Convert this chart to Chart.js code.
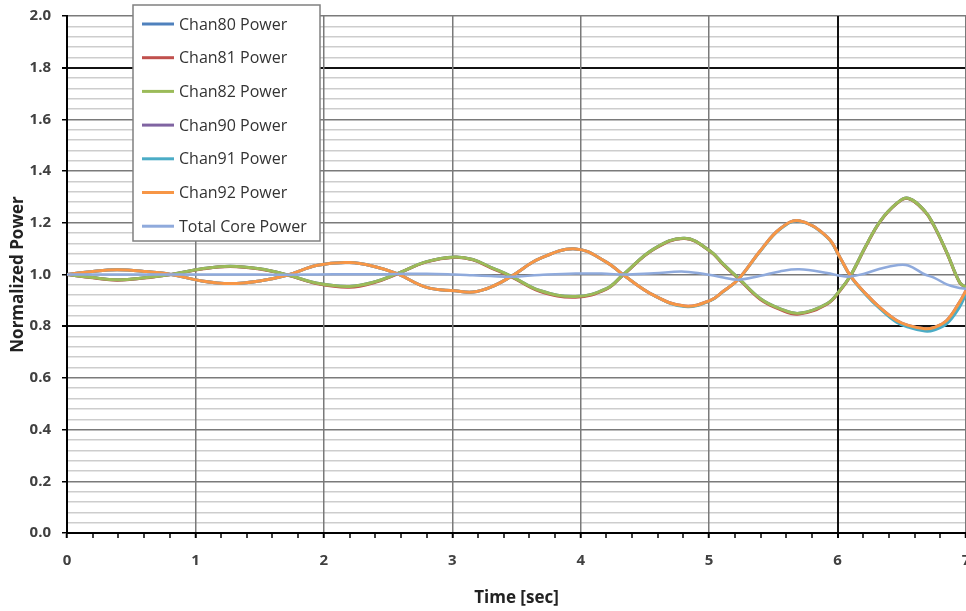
<!DOCTYPE html>
<html>
<head>
<meta charset="utf-8">
<script src="https://cdn.jsdelivr.net/npm/chart.js@4.4.1/dist/chart.umd.min.js"></script>
<style>
  html, body { margin:0; padding:0; background:#fff; overflow:hidden; width:966px; height:611px; }
  #wrap { position:absolute; left:0; top:0; width:1000px; height:611px; }
</style>
</head>
<body>
<div id="wrap"><canvas id="c" width="1000" height="611"></canvas></div>
<script>
// ---- data ----
const time = [0,0.2,0.39,0.6,0.81,1.05,1.27,1.5,1.72,1.95,2.2,2.4,2.57,2.8,3.02,3.16,3.3,3.46,3.68,3.96,4.2,4.33,4.57,4.81,5.01,5.11,5.23,5.4,5.55,5.7,5.92,6.02,6.1,6.22,6.33,6.46,6.55,6.68,6.75,6.85,6.95,7.0];

const chan80 = [1.000,0.988,0.980,0.987,1.000,1.022,1.032,1.022,0.998,0.966,0.954,0.972,1.003,1.050,1.068,1.058,1.028,0.993,0.938,0.915,0.945,0.999,1.099,1.140,1.090,1.040,0.985,0.906,0.868,0.850,0.888,0.940,0.995,1.110,1.205,1.275,1.295,1.245,1.190,1.086,0.970,0.950];
const chan81 = [1.000,0.987,0.978,0.986,1.000,1.021,1.031,1.021,0.997,0.964,0.951,0.970,1.002,1.049,1.067,1.057,1.026,0.991,0.935,0.912,0.943,0.998,1.098,1.139,1.089,1.038,0.983,0.903,0.865,0.847,0.886,0.938,0.994,1.109,1.204,1.274,1.294,1.244,1.189,1.085,0.969,0.949];
const chan82 = [1.000,0.988,0.980,0.987,1.000,1.022,1.032,1.022,0.998,0.966,0.954,0.972,1.003,1.050,1.068,1.058,1.028,0.993,0.938,0.915,0.945,0.999,1.099,1.140,1.090,1.040,0.985,0.906,0.868,0.850,0.888,0.940,0.995,1.110,1.205,1.275,1.295,1.245,1.190,1.086,0.970,0.950];
const chan90 = [1.000,1.012,1.018,1.012,1.000,0.975,0.965,0.975,0.998,1.036,1.046,1.030,1.003,0.950,0.937,0.932,0.951,0.993,1.061,1.099,1.048,0.999,0.919,0.878,0.900,0.935,0.983,1.093,1.176,1.208,1.145,1.065,0.995,0.925,0.872,0.822,0.803,0.790,0.795,0.822,0.893,0.938];
const chan91 = [1.000,1.012,1.018,1.012,1.000,0.975,0.965,0.975,0.998,1.036,1.046,1.030,1.003,0.950,0.937,0.932,0.951,0.993,1.061,1.099,1.048,0.999,0.919,0.876,0.899,0.934,0.983,1.092,1.175,1.207,1.144,1.064,0.994,0.922,0.868,0.815,0.797,0.781,0.785,0.810,0.875,0.925];
const chan92 = [1.000,1.012,1.018,1.012,1.000,0.975,0.965,0.975,0.998,1.036,1.046,1.030,1.003,0.950,0.937,0.932,0.951,0.993,1.061,1.099,1.048,0.999,0.919,0.878,0.900,0.935,0.983,1.093,1.176,1.208,1.145,1.065,0.995,0.925,0.872,0.822,0.803,0.790,0.795,0.822,0.893,0.938];
const totalCore = [1.000,1.000,1.000,1.000,1.000,1.000,1.000,1.000,0.999,1.000,1.001,1.001,1.002,1.003,1.000,0.997,0.994,0.991,0.998,1.004,1.003,1.000,1.005,1.011,0.998,0.988,0.980,0.995,1.012,1.020,1.006,0.995,0.992,1.005,1.022,1.036,1.035,1.000,0.988,0.962,0.948,0.945];

const seriesLabels = ['Chan80 Power','Chan81 Power','Chan82 Power','Chan90 Power','Chan91 Power','Chan92 Power','Total Core Power'];
const seriesValues = [chan80, chan81, chan82, chan90, chan91, chan92, totalCore];
const seriesColors = ['#4F81BD','#C0504D','#9BBB59','#8064A2','#4BACC6','#F79646','#8FAADC'];
const xTickLabels = ['0','1','2','3','4','5','6','7'];
const yTickLabels = ['0.0','0.2','0.4','0.6','0.8','1.0','1.2','1.4','1.6','1.8','2.0'];

// ---- chart ----
const datasets = seriesValues.map((vals, i) => ({
  label: seriesLabels[i],
  data: time.map((t, k) => ({ x: t, y: vals[k] })),
  borderColor: seriesColors[i],
  backgroundColor: seriesColors[i],
  borderWidth: i === 6 ? 2.5 : 3,
  pointRadius: 0,
  tension: 0.4,
  fill: false,
  order: 6 - i
}));

const isInt = v => Math.abs(v - Math.round(v)) < 1e-6;
const isMajorY = v => Math.abs(v * 5 - Math.round(v * 5)) < 1e-6;
const near = (a, b) => Math.abs(a - b) < 1e-6;

const insideLegend = {
  id: 'insideLegend',
  afterDraw(chart) {
    const ctx = chart.ctx;
    const a = chart.chartArea;
    const x0 = a.left + 66, y0 = a.top - 11, w = 187, h = 236;
    ctx.save();
    ctx.fillStyle = '#ffffff';
    ctx.fillRect(x0, y0, w, h);
    ctx.strokeStyle = '#808080';
    ctx.lineWidth = 1.5;
    ctx.strokeRect(x0, y0, w, h);
    ctx.font = '16px "Open Sans"';
    ctx.textBaseline = 'middle';
    chart.data.datasets.forEach((ds, i) => {
      const cy = y0 + 19 + i * 33.7;
      ctx.strokeStyle = ds.borderColor;
      ctx.lineWidth = 3;
      ctx.beginPath();
      ctx.moveTo(x0 + 9, cy);
      ctx.lineTo(x0 + 41, cy);
      ctx.stroke();
      ctx.fillStyle = '#333333';
      ctx.fillText(ds.label, x0 + 46, cy + 1);
    });
    ctx.restore();
  }
};

new Chart(document.getElementById('c'), {
  type: 'line',
  data: { datasets },
  plugins: [insideLegend],
  options: {
    responsive: false,
    animation: false,
    devicePixelRatio: 1,
    layout: { padding: { left: 0, right: 34, top: 16, bottom: 0 } },
    plugins: { legend: { display: false }, tooltip: { enabled: false } },
    scales: {
      x: {
        type: 'linear', min: 0, max: 7,
        afterFit: s => { s.height = 78; },
        ticks: {
          stepSize: 0.2, autoSkip: false, maxRotation: 0, padding: 14,
          color: '#404040', font: { family: '"Open Sans"', size: 15, weight: 'bold' },
          callback: v => isInt(v) ? xTickLabels[Math.round(v)] : ''
        },
        grid: {
          z: -1,
          color: c => isInt(c.tick.value) ? (near(c.tick.value, 6) ? '#111111' : '#7a7a7a') : 'rgba(0,0,0,0)',
          lineWidth: c => isInt(c.tick.value) ? (near(c.tick.value, 6) ? 2 : 1.5) : 0,
          tickColor: '#000000',
          tickWidth: c => isInt(c.tick.value) ? 2 : 1.5,
          tickLength: 5
        },
        border: { color: '#000000', width: 2 },
        title: {
          display: true, text: 'Time [sec]', color: '#222222',
          font: { family: '"Open Sans"', size: 17, weight: 'bold' },
          padding: { top: 4, bottom: 3 }
        }
      },
      y: {
        type: 'linear', min: 0, max: 2,
        afterFit: s => { s.width = 67; s.paddingTop = 0; s.paddingBottom = 0; },
        ticks: {
          stepSize: 0.04, autoSkip: false, padding: 11,
          color: '#404040', font: { family: '"Open Sans"', size: 15, weight: 'bold' },
          callback: v => isMajorY(v) ? yTickLabels[Math.round(v * 5)] : ''
        },
        grid: {
          z: -2,
          color: c => {
            const v = c.tick.value;
            if (!isMajorY(v)) return '#cdcdcd';
            if (near(v, 0.8) || near(v, 1.8)) return '#111111';
            return '#7a7a7a';
          },
          lineWidth: c => {
            const v = c.tick.value;
            if (!isMajorY(v)) return 1.5;
            if (near(v, 0.8) || near(v, 1.8)) return 2;
            return 1.5;
          },
          tickColor: c => isMajorY(c.tick.value) ? '#000000' : 'rgba(0,0,0,0)',
          tickLength: 5
        },
        border: { color: '#000000', width: 2 },
        title: {
          display: true, text: 'Normalized Power', color: '#222222',
          font: { family: '"Open Sans"', size: 17, weight: 'bold' },
          padding: { top: 8, bottom: 2 }
        }
      }
    }
  }
});
</script>
</body>
</html>
